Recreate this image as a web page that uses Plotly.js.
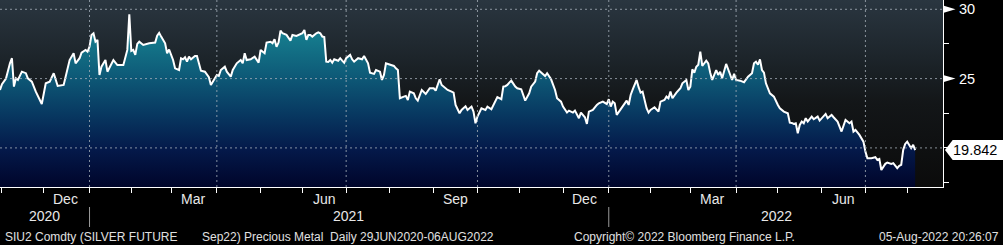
<!DOCTYPE html>
<html><head><meta charset="utf-8">
<script src="https://cdn.plot.ly/plotly-3.0.1.min.js"></script>
<style>
html,body{margin:0;padding:0;background:#000;width:1003px;height:245px;overflow:hidden}
#wrap{position:relative;width:1003px;height:245px}
#bg{position:absolute;left:0;top:0;width:943px;height:187px;background:linear-gradient(to bottom,#2a3640 0%,#1d252b 30%,#131618 55%,#0b0b0b 100%);z-index:0}
#chart{position:absolute;left:0;top:0;width:1003px;height:245px;z-index:1}
</style></head><body>
<div id="wrap"><div id="bg"></div><div id="chart"></div></div>
<script>
// ---- data (SIU2 Comdty, daily close) ----
const dates = [
'2020-10-30','2020-11-02','2020-11-04','2020-11-05','2020-11-06','2020-11-09','2020-11-10','2020-11-11','2020-11-12','2020-11-16',
'2020-11-18','2020-11-19','2020-11-23','2020-11-25','2020-11-27','2020-11-30','2020-12-02','2020-12-04','2020-12-08','2020-12-10',
'2020-12-15','2020-12-18','2020-12-22','2020-12-23','2020-12-25','2020-12-28','2020-12-30','2020-12-31','2021-01-01','2021-01-04',
'2021-01-05','2021-01-06','2021-01-07','2021-01-08','2021-01-11','2021-01-13','2021-01-14','2021-01-19','2021-01-21','2021-01-26',
'2021-01-28','2021-01-29','2021-02-01','2021-02-02','2021-02-03','2021-02-04','2021-02-05','2021-02-09','2021-02-12','2021-02-17',
'2021-02-18','2021-02-19','2021-02-22','2021-02-24','2021-02-25','2021-02-26','2021-03-02','2021-03-03','2021-03-05','2021-03-08',
'2021-03-09','2021-03-10','2021-03-11','2021-03-12','2021-03-15','2021-03-17','2021-03-18','2021-03-19','2021-03-22','2021-03-24',
'2021-03-25','2021-03-26','2021-03-29','2021-03-31','2021-04-01','2021-04-02','2021-04-05','2021-04-07','2021-04-08','2021-04-12',
'2021-04-13','2021-04-15','2021-04-19','2021-04-20','2021-04-21','2021-04-22','2021-04-26','2021-04-28','2021-04-30','2021-05-03',
'2021-05-05','2021-05-06','2021-05-10','2021-05-11','2021-05-12','2021-05-13','2021-05-14','2021-05-17','2021-05-18','2021-05-20',
'2021-05-24','2021-05-25','2021-05-27','2021-06-01','2021-06-02','2021-06-03','2021-06-04','2021-06-07','2021-06-08','2021-06-10',
'2021-06-11','2021-06-14','2021-06-15','2021-06-16','2021-06-17','2021-06-18','2021-06-21','2021-06-22','2021-06-23','2021-06-25',
'2021-06-28','2021-06-29','2021-06-30','2021-07-01','2021-07-02','2021-07-05','2021-07-06','2021-07-07','2021-07-09','2021-07-13',
'2021-07-14','2021-07-16','2021-07-19','2021-07-21','2021-07-22','2021-07-26','2021-07-27','2021-07-28','2021-07-29','2021-08-02',
'2021-08-04','2021-08-05','2021-08-06','2021-08-09','2021-08-10','2021-08-11','2021-08-12','2021-08-13','2021-08-16','2021-08-18',
'2021-08-19','2021-08-20','2021-08-24','2021-08-26','2021-08-30','2021-09-01','2021-09-02','2021-09-06','2021-09-07','2021-09-09',
'2021-09-10','2021-09-14','2021-09-15','2021-09-16','2021-09-20','2021-09-21','2021-09-23','2021-09-24','2021-09-28','2021-09-29',
'2021-09-30','2021-10-01','2021-10-05','2021-10-07','2021-10-08','2021-10-12','2021-10-14','2021-10-15','2021-10-19','2021-10-20',
'2021-10-21','2021-10-22','2021-10-25','2021-10-26','2021-10-28','2021-10-29','2021-11-02','2021-11-03','2021-11-04','2021-11-08',
'2021-11-09','2021-11-11','2021-11-12','2021-11-15','2021-11-16','2021-11-18','2021-11-19','2021-11-22','2021-11-23','2021-11-25',
'2021-11-26','2021-11-30','2021-12-01','2021-12-03','2021-12-06','2021-12-08','2021-12-09','2021-12-13','2021-12-14','2021-12-16',
'2021-12-17','2021-12-20','2021-12-22','2021-12-24','2021-12-27','2021-12-29','2021-12-31','2022-01-03','2022-01-04','2022-01-05',
'2022-01-06','2022-01-07','2022-01-10','2022-01-12','2022-01-14','2022-01-17','2022-01-18','2022-01-19','2022-01-20','2022-01-21',
'2022-01-24','2022-01-25','2022-01-26','2022-01-28','2022-01-31','2022-02-01','2022-02-03','2022-02-07','2022-02-08','2022-02-10',
'2022-02-11','2022-02-14','2022-02-15','2022-02-16','2022-02-18','2022-02-22','2022-02-23','2022-02-25','2022-02-28','2022-03-01',
'2022-03-02','2022-03-03','2022-03-04','2022-03-07','2022-03-08','2022-03-09','2022-03-11','2022-03-14','2022-03-15','2022-03-16',
'2022-03-18','2022-03-21','2022-03-22','2022-03-23','2022-03-25','2022-03-28','2022-03-30','2022-03-31','2022-04-01','2022-04-05',
'2022-04-07','2022-04-11','2022-04-13','2022-04-14','2022-04-15','2022-04-18','2022-04-19','2022-04-20','2022-04-21','2022-04-22',
'2022-04-26','2022-04-28','2022-04-29','2022-05-02','2022-05-03','2022-05-05','2022-05-09','2022-05-10','2022-05-11','2022-05-12',
'2022-05-13','2022-05-16','2022-05-17','2022-05-18','2022-05-19','2022-05-20','2022-05-23','2022-05-25','2022-05-26','2022-05-30',
'2022-05-31','2022-06-01','2022-06-03','2022-06-06','2022-06-08','2022-06-09','2022-06-13','2022-06-15','2022-06-16','2022-06-17',
'2022-06-21','2022-06-22','2022-06-23','2022-06-24','2022-06-28','2022-06-30','2022-07-01','2022-07-04','2022-07-06','2022-07-08',
'2022-07-11','2022-07-12','2022-07-13','2022-07-15','2022-07-18','2022-07-20','2022-07-21','2022-07-25','2022-07-26','2022-07-27',
'2022-07-28','2022-07-29','2022-08-01','2022-08-02','2022-08-03','2022-08-04','2022-08-05'
];
const prices = [
24.18,24.6,25.0,25.6,26.1,26.47,24.42,25.02,24.9,25.5,
25.39,25.02,24.78,24.06,23.46,23.17,24.66,24.78,25.39,24.47,
24.54,26.34,26.83,26.1,26.47,26.87,27.07,26.95,27.3,28.15,
28.27,27.66,27.79,25.26,25.86,26.34,25.5,26.34,25.98,25.98,
27.07,29.64,27.0,27.07,26.71,27.5,27.66,27.43,27.55,27.6,
28.1,28.3,28.03,27.55,26.83,27.1,26.34,25.74,25.62,26.47,
26.39,26.54,26.22,26.58,26.39,26.63,26.63,26.1,25.57,25.5,
25.34,25.1,24.54,25.02,25.26,25.2,25.62,25.86,25.5,25.14,
25.62,26.1,26.34,26.1,26.83,26.34,26.39,26.58,26.15,27.07,
26.83,27.6,27.66,27.55,27.84,27.3,27.6,28.46,28.27,28.15,
27.74,28.15,28.08,28.27,28.51,27.79,28.15,28.15,28.03,28.27,
28.34,28.27,28.03,28.0,26.22,26.2,26.34,26.15,26.39,26.29,
26.47,26.3,26.15,26.47,26.6,26.71,26.39,26.22,26.47,26.39,
26.63,26.1,25.43,25.34,25.62,25.5,24.9,25.26,26.1,25.98,
25.91,25.74,25.62,23.58,23.66,23.7,23.75,23.46,24.06,23.94,
23.58,23.41,24.18,23.89,24.3,24.3,24.13,24.95,24.54,24.3,
24.18,24.06,23.99,23.1,22.5,22.74,23.0,22.74,22.98,22.62,
21.78,22.26,22.86,22.74,22.98,22.79,23.34,23.66,23.51,24.42,
24.45,24.54,24.71,24.85,24.42,24.3,24.23,23.82,23.41,23.94,
24.42,24.78,25.39,25.57,25.43,25.19,25.39,25.14,24.95,24.18,
23.58,23.34,22.98,22.55,22.69,22.55,22.69,22.14,22.55,22.21,
21.73,22.62,22.74,23.1,23.22,23.34,23.17,23.51,22.98,23.34,
23.22,22.38,22.6,22.98,23.41,23.1,23.82,24.2,24.54,24.9,
24.38,23.99,24.06,22.86,22.55,22.74,22.93,22.62,23.34,23.46,
23.7,23.58,24.06,23.58,23.99,24.3,24.66,24.9,24.18,24.42,
25.67,25.43,25.86,26.0,26.95,25.91,26.29,26.1,25.43,24.9,
25.62,25.26,25.5,25.02,26.06,25.62,24.9,25.34,24.9,24.85,
24.74,25.14,25.39,26.1,26.22,26.0,26.39,25.62,25.43,24.66,
23.94,23.7,23.34,23.1,22.86,22.62,22.5,21.82,21.8,21.73,
21.78,21.06,21.66,21.9,21.78,22.14,21.9,22.26,22.07,22.26,
21.97,22.14,22.45,22.14,22.38,22.21,21.9,21.18,21.54,22.02,
21.78,21.9,21.18,21.3,20.94,20.45,19.73,19.26,19.26,19.33,
19.13,19.2,18.41,18.85,18.94,18.85,18.9,18.54,18.7,18.77,
19.86,20.29,20.45,20.22,19.98,20.22,19.842
];
const xRange = ['2020-10-30', '2022-08-25'];
const yRange = [17.18, 30.67];
const yTickVals = [17.5, 20, 22.5, 25, 27.5, 30];
const yLabelTicks = [25, 30];
const yGridTicks = [20, 25, 30];
const labelMonths = ['2020-12','2021-03','2021-06','2021-09','2021-12','2022-03','2022-06'];
const monthLabels = ['Dec','Mar','Jun','Sep','Dec','Mar','Jun'];
const yearLabels = ['2020','2021','2022'];
const yearLabelPos = [0.0472, 0.370, 0.823];
const footerLeft = 'SIU2 Comdty (SILVER FUTURE';
const footerLeft2 = 'Sep22) Precious Metal\u00a0 Daily 29JUN2020-06AUG2022';
const footerMid = 'Copyright\u00a9 2022 Bloomberg Finance L.P.';
const footerRight = '05-Aug-2022 20:26:07';

// ---- helpers ----
function weekdayOf(y, m, d) {
  const dt = new Date(Date.UTC(y, m, d));
  while (dt.getUTCDay() === 0 || dt.getUTCDay() === 6) dt.setUTCDate(dt.getUTCDate() + 1);
  return dt.toISOString().slice(0, 10);
}
const monthStarts = [];
const quarterStarts = [];
const yearStarts = [];
for (let y = 2020, m = 10; y < 2022 || (y === 2022 && m <= 7); ) {
  const s = weekdayOf(y, m, 1);
  monthStarts.push(s);
  if (m % 3 === 0) quarterStarts.push(s);
  if (m === 0) yearStarts.push(s);
  m++; if (m > 11) { m = 0; y++; }
}

const FONT = 'Liberation Sans, Arial, sans-serif';
const H = 187; // plot height in px
const pxToPaperY = p => (H - p) / H;
const lastPrice = prices[prices.length - 1];

const shapes = [];
const gridLine = {color: 'rgba(165,175,185,0.8)', width: 1, dash: '2px,3px'};
yGridTicks.forEach(v => shapes.push({type: 'line', xref: 'paper', yref: 'y', x0: 0, x1: 1, y0: v, y1: v, line: gridLine, layer: 'above'}));
quarterStarts.forEach(d => shapes.push({type: 'line', xref: 'x', yref: 'paper', x0: d, x1: d, y0: 0, y1: 1, line: gridLine, layer: 'above'}));
// year separators
yearStarts.forEach(d => shapes.push({type: 'line', xref: 'x', yref: 'paper', x0: d, x1: d, y0: pxToPaperY(207), y1: pxToPaperY(227), line: {color: '#9a9a9a', width: 1}, layer: 'above'}));
// label triangles on right axis
const W = 943;
const dUnit = (yRange[1] - yRange[0]) / H;
yLabelTicks.forEach(v => shapes.push({type: 'path', xref: 'paper', yref: 'y',
  path: `M 1 ${v + 3.7 * dUnit} L ${1 + 12.5 / W} ${v} L 1 ${v - 3.7 * dUnit} Z`,
  fillcolor: '#ffffff', line: {width: 0}, layer: 'above'}));
// last price box
const bh = 10 * dUnit;
shapes.push({type: 'path', xref: 'paper', yref: 'y',
  path: `M ${1 + 2 / W} ${lastPrice} L ${1 + 9.7 / W} ${lastPrice + bh} L ${1 + 60 / W} ${lastPrice + bh} L ${1 + 60 / W} ${lastPrice - bh} L ${1 + 9.7 / W} ${lastPrice - bh} Z`,
  fillcolor: '#ffffff', line: {width: 0}, layer: 'above'});

const annotations = [];
labelMonths.forEach((mo, i) => {
  const [y, m] = mo.split('-').map(Number);
  annotations.push({x: weekdayOf(y, m - 1, 16), xref: 'x', y: pxToPaperY(199), yref: 'paper', text: monthLabels[i],
    showarrow: false, xanchor: 'center', yanchor: 'middle', font: {family: FONT, size: 14, color: '#e8e8e8'}});
});
yearLabels.forEach((t, i) => annotations.push({x: yearLabelPos[i], xref: 'paper', y: pxToPaperY(216), yref: 'paper', text: t,
  showarrow: false, xanchor: 'center', yanchor: 'middle', font: {family: FONT, size: 14, color: '#e8e8e8'}}));
const ff = {family: FONT, size: 12, color: '#e0e0e0'};
annotations.push({x: 3 / W, xref: 'paper', y: pxToPaperY(237), yref: 'paper', text: footerLeft, showarrow: false, xanchor: 'left', yanchor: 'middle', font: ff});
annotations.push({x: 200 / W, xref: 'paper', y: pxToPaperY(237), yref: 'paper', text: footerLeft2, showarrow: false, xanchor: 'left', yanchor: 'middle', font: ff});
annotations.push({x: 572 / W, xref: 'paper', y: pxToPaperY(237), yref: 'paper', text: footerMid, showarrow: false, xanchor: 'left', yanchor: 'middle', font: ff});
annotations.push({x: 1001 / W, xref: 'paper', y: pxToPaperY(237), yref: 'paper', text: footerRight, showarrow: false, xanchor: 'right', yanchor: 'middle', font: ff});
annotations.push({x: 1 + 32.5 / W, xref: 'paper', y: lastPrice, yref: 'y', text: lastPrice.toFixed(3), showarrow: false,
  xanchor: 'center', yanchor: 'middle', font: {family: FONT, size: 14.5, color: '#000000'}});

const trace = {
  x: dates, y: prices, type: 'scatter', mode: 'lines',
  line: {color: '#ffffff', width: 2},
  fill: 'tozeroy',
  fillgradient: {type: 'vertical', start: yRange[0], stop: yRange[1],
    colorscale: [[0, '#00052a'], [0.2, '#04194a'], [0.4, '#083a62'], [0.6, '#0e5b78'], [0.8, '#157a8c'], [1, '#1c8a9a']]},
  hoverinfo: 'skip'
};

const layout = {
  width: 1003, height: 245,
  margin: {l: 0, r: 60, t: 0, b: 58, pad: 0},
  paper_bgcolor: 'rgba(0,0,0,0)', plot_bgcolor: 'rgba(0,0,0,0)',
  showlegend: false,
  xaxis: {type: 'date', range: xRange, rangebreaks: [{bounds: ['sat', 'mon']}],
    tickmode: 'array', tickvals: monthStarts, ticktext: monthStarts.map(() => ''),
    ticks: 'outside', ticklen: 5, tickcolor: '#ffffff', tickwidth: 1,
    showgrid: false, zeroline: false, showline: true, linecolor: '#ffffff', linewidth: 1, fixedrange: true},
  yaxis: {side: 'right', range: yRange, tickmode: 'array', tickvals: yTickVals,
    ticktext: yTickVals.map(v => yLabelTicks.includes(v) ? String(v) : ''),
    ticks: 'outside', ticklen: 5, tickcolor: '#ffffff', tickwidth: 1, ticklabelstandoff: 7,
    tickfont: {family: FONT, size: 14.5, color: '#ffffff'},
    showgrid: false, zeroline: false, showline: true, linecolor: '#ffffff', linewidth: 1, fixedrange: true},
  shapes: shapes, annotations: annotations
};

Plotly.newPlot('chart', [trace], layout, {staticPlot: true, displayModeBar: false});
</script>
</body></html>
